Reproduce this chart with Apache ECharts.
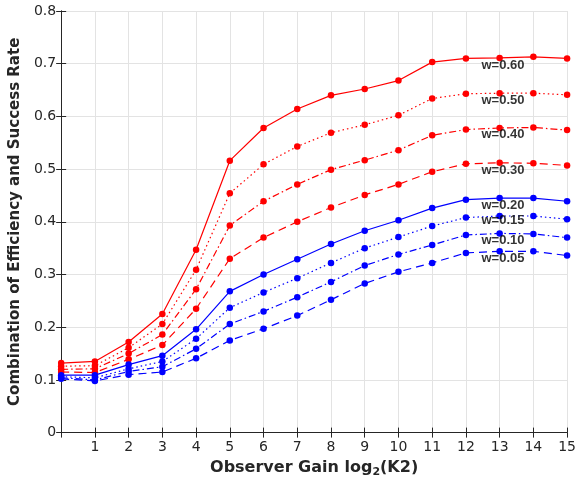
<!DOCTYPE html>
<html>
<head>
<meta charset="utf-8">
<script src="https://cdn.jsdelivr.net/npm/echarts@6/dist/echarts.min.js"></script>
<style>
  html, body { margin: 0; padding: 0; background: #fff; }
  #chart { width: 579px; height: 483px; }
</style>
</head>
<body>
<div id="chart"></div>
<script>
// Observer gain exponents log2(K2)
const gains = [0, 1, 2, 3, 4, 5, 6, 7, 8, 9, 10, 11, 12, 13, 14, 15];

// Combined efficiency / success rate for each weight w
const w060 = [0.132, 0.135, 0.172, 0.225, 0.347, 0.516, 0.578, 0.614, 0.640, 0.652, 0.668, 0.703, 0.710, 0.711, 0.713, 0.710];
const w050 = [0.126, 0.127, 0.161, 0.206, 0.309, 0.454, 0.509, 0.543, 0.569, 0.584, 0.602, 0.634, 0.643, 0.644, 0.644, 0.641];
const w040 = [0.120, 0.121, 0.150, 0.186, 0.272, 0.393, 0.439, 0.471, 0.499, 0.517, 0.536, 0.564, 0.575, 0.578, 0.579, 0.574];
const w030 = [0.115, 0.114, 0.139, 0.166, 0.235, 0.330, 0.370, 0.400, 0.427, 0.451, 0.471, 0.495, 0.510, 0.512, 0.511, 0.507];
const w020 = [0.109, 0.109, 0.129, 0.146, 0.196, 0.268, 0.300, 0.329, 0.358, 0.383, 0.403, 0.426, 0.442, 0.445, 0.445, 0.439];
const w015 = [0.106, 0.104, 0.121, 0.135, 0.178, 0.237, 0.266, 0.293, 0.322, 0.350, 0.371, 0.392, 0.408, 0.411, 0.411, 0.405];
const w010 = [0.104, 0.100, 0.116, 0.125, 0.159, 0.206, 0.230, 0.257, 0.286, 0.317, 0.338, 0.356, 0.375, 0.378, 0.377, 0.370];
const w005 = [0.102, 0.098, 0.110, 0.115, 0.141, 0.175, 0.197, 0.222, 0.252, 0.283, 0.305, 0.322, 0.341, 0.344, 0.344, 0.336];

// Curve annotations and where they sit (data units)
const curveNames = ['w=0.60', 'w=0.50', 'w=0.40', 'w=0.30', 'w=0.20', 'w=0.15', 'w=0.10', 'w=0.05'];
const labelX = [13.1, 13.1, 13.1, 13.1, 13.1, 13.1, 13.1, 13.1];
const labelY = [0.697, 0.631, 0.566, 0.498, 0.432, 0.402, 0.365, 0.330];

const curves = [w060, w050, w040, w030, w020, w015, w010, w005];
const RED = '#ff0000', BLUE = '#0000ff';
const colors = [RED, RED, RED, RED, BLUE, BLUE, BLUE, BLUE];
const SOLID = 'solid', DOT = [1.5, 3], DASHDOT = [7, 3, 1.5, 3], DASH = [8, 5];
const dashes = [SOLID, DOT, DASHDOT, DASH, SOLID, DOT, DASHDOT, DASH];

const FONT = '"DejaVu Sans", Helvetica, sans-serif';
const LABEL_FONT = '"Liberation Sans", Arial, Helvetica, sans-serif';
const AX = '#262626';

const lineSeries = curves.map((vals, i) => ({
  type: 'line',
  name: curveNames[i],
  data: gains.map((g, k) => [g, vals[k]]),
  symbol: 'circle',
  symbolSize: 6.5,
  color: colors[i],
  lineStyle: { color: colors[i], width: 1.2, type: dashes[i] },
  itemStyle: { color: colors[i] },
  animation: false,
  z: 3
}));

const labelSeries = {
  type: 'scatter',
  data: labelX.map((x, i) => ({ value: [x, labelY[i]], name: curveNames[i] })),
  symbolSize: 0,
  silent: true,
  animation: false,
  z: 5,
  label: {
    show: true,
    position: 'inside',
    formatter: p => p.name,
    color: '#000',
    fontFamily: LABEL_FONT,
    fontWeight: 'bold',
    fontSize: 13
  }
};

const commonAxisLine = { show: true, lineStyle: { color: AX, width: 1 } };
const commonTick = { show: true, inside: true, length: 5, lineStyle: { color: AX } };

const option = {
  backgroundColor: '#fff',
  animation: false,
  grid: { left: 57, right: 10, top: 11, bottom: 47 },
  xAxis: [
    {
      type: 'value', min: 0, max: 15, interval: 1,
      axisLine: commonAxisLine, axisTick: commonTick,
      splitLine: { show: true, lineStyle: { color: '#e3e3e3', width: 1 } },
      axisLabel: {
        color: AX, fontFamily: FONT, fontSize: 14, margin: 8,
        formatter: v => (v === 0 ? '' : String(v))
      },
      name: 'Observer Gain log{sub|2}(K2)',
      nameLocation: 'middle', nameGap: 24,
      nameTextStyle: {
        color: AX, fontFamily: FONT, fontWeight: 'bold', fontSize: 16,
        rich: { sub: { fontFamily: FONT, fontWeight: 'bold', fontSize: 11, verticalAlign: 'bottom', padding: [10, 0, 0, 0] } }
      }
    },
    {
      type: 'value', min: 0, max: 15, interval: 1, position: 'top',
      axisLine: commonAxisLine, axisTick: commonTick,
      axisLabel: { show: false }, splitLine: { show: false }
    }
  ],
  yAxis: [
    {
      type: 'value', min: 0, max: 0.8, interval: 0.1,
      axisLine: commonAxisLine, axisTick: commonTick,
      splitLine: { show: true, lineStyle: { color: '#e3e3e3', width: 1 } },
      axisLabel: { color: AX, fontFamily: FONT, fontSize: 14, margin: 5 },
      name: 'Combination of Efficiency and Success Rate',
      nameLocation: 'middle', nameGap: 33,
      nameTextStyle: { color: AX, fontFamily: FONT, fontWeight: 'bold', fontSize: 15 }
    },
    {
      type: 'value', min: 0, max: 0.8, interval: 0.1, position: 'right',
      axisLine: commonAxisLine, axisTick: commonTick,
      axisLabel: { show: false }, splitLine: { show: false }
    }
  ],
  series: [...lineSeries, labelSeries]
};

const chart = echarts.init(document.getElementById('chart'), null, { renderer: 'canvas' });
chart.setOption(option);
</script>
</body>
</html>
